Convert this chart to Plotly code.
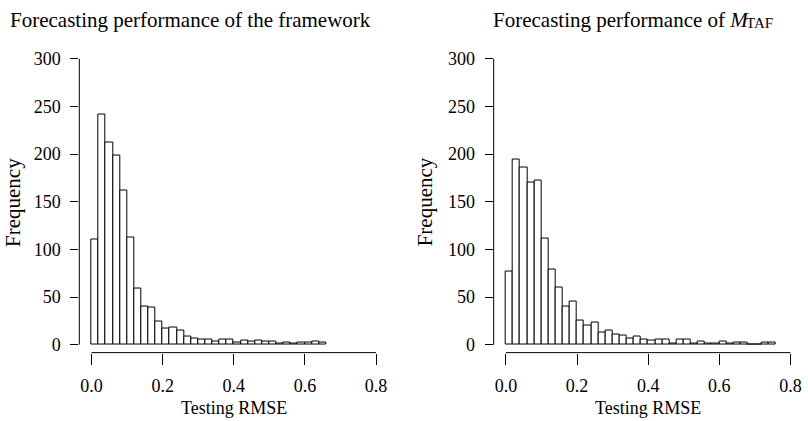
import numpy as np
import plotly.graph_objects as go

W, H = 808, 421
bin_width = 0.02
left_counts = [110, 242, 212, 199, 162, 112, 59, 40, 39, 24, 17, 18, 15, 9, 6, 5, 5, 3, 5, 5,
               2, 4, 3, 4, 3, 3, 1, 2, 1, 2, 2, 3, 2]
right_counts = [77, 194, 186, 170, 172, 111, 79, 60, 40, 45, 25, 20, 23, 13, 15, 11, 10, 6, 9, 5,
                4, 5, 5, 1, 5, 5, 1, 3, 1, 1, 3, 1, 2, 2, 0, 0, 2, 2]
x_ticks = [0.0, 0.2, 0.4, 0.6, 0.8]
x_tick_labels = ["0.0", "0.2", "0.4", "0.6", "0.8"]
y_ticks = [0, 50, 100, 150, 200, 250, 300]
titles = ["Forecasting performance of the framework", "Forecasting performance of <i>M</i>"]
title_sub = "TAF"
x_label = "Testing RMSE"
y_label = "Frequency"

FONT = "Liberation Serif"
px_per_x = 358.75
px_per_y = 0.96233

fig = go.Figure()

def centers(counts):
    return [bin_width * (i + 0.5) for i in range(len(counts))]

fig.add_trace(go.Bar(x=centers(left_counts), y=left_counts, width=bin_width,
                     marker=dict(color="white", line=dict(color="black", width=1)),
                     xaxis="x", yaxis="y", showlegend=False))
fig.add_trace(go.Bar(x=centers(right_counts), y=right_counts, width=bin_width,
                     marker=dict(color="white", line=dict(color="black", width=1)),
                     xaxis="x2", yaxis="y2", showlegend=False))

# panel geometry (pixels)
panels = [dict(ax_px=80, zero_px=92.3, right_px=384, ylab_px=13),
          dict(ax_px=498, zero_px=510.3, right_px=808, ylab_px=429)]
y_bottom_px, y_top_px, y0_px = 354, 50, 346
yr = [-(y_bottom_px - y0_px) / px_per_y, 300 + (y0_px - px_per_y * 300 - y_top_px) / px_per_y]
ydom = [(H - y_bottom_px) / H, (H - y_top_px) / H]

axis_font = dict(family=FONT, size=18, color="black")
layout = dict(width=W, height=H, margin=dict(l=0, r=0, t=0, b=0),
              plot_bgcolor="white", paper_bgcolor="white", bargap=0,
              font=dict(family=FONT, color="black"))
shapes = []
annotations = []
for i, p in enumerate(panels):
    sfx = "" if i == 0 else "2"
    xr = [-(p["zero_px"] - p["ax_px"]) / px_per_x, (p["right_px"] - p["zero_px"]) / px_per_x]
    layout["xaxis" + sfx] = dict(domain=[p["ax_px"] / W, p["right_px"] / W], range=xr,
                                 showgrid=False, zeroline=False, showline=False,
                                 tickmode="array", tickvals=x_ticks, ticktext=x_tick_labels,
                                 ticks="outside", ticklen=11, tickcolor="black", tickwidth=1,
                                 ticklabelstandoff=6, tickfont=axis_font,
                                 anchor="y" + sfx, fixedrange=True)
    layout["yaxis" + sfx] = dict(domain=ydom, range=yr, showgrid=False, zeroline=False,
                                 showline=False, tickmode="array", tickvals=y_ticks,
                                 ticks="outside", ticklen=8, tickcolor="black", tickwidth=1,
                                 ticklabelstandoff=6, tickfont=axis_font,
                                 anchor="x" + sfx, fixedrange=True)
    xa = "x" + sfx
    ya = "y" + sfx
    shapes.append(dict(type="line", xref=xa, yref="paper", x0=x_ticks[0], x1=x_ticks[-1],
                       y0=ydom[0], y1=ydom[0], line=dict(color="black", width=1)))
    shapes.append(dict(type="line", xref="paper", yref=ya, x0=p["ax_px"] / W, x1=p["ax_px"] / W,
                       y0=y_ticks[0], y1=y_ticks[-1], line=dict(color="black", width=1)))
    annotations.append(dict(text=x_label, xref=xa, yref="paper", x=0.4,
                            y=1 - 410 / H, yanchor="middle", xanchor="center", showarrow=False,
                            font=dict(family=FONT, size=18, color="black")))
    annotations.append(dict(text=y_label, xref="paper", yref="paper",
                            x=p["ylab_px"] / W, y=1 - 202 / H, textangle=-90,
                            xanchor="center", yanchor="middle", showarrow=False,
                            font=dict(family=FONT, size=21, color="black")))

annotations.append(dict(text=titles[0], xref="paper", yref="paper", x=8 / W, y=1 - 18 / H,
                        xanchor="left", yanchor="middle", showarrow=False,
                        font=dict(family=FONT, size=21, color="black")))
annotations.append(dict(text=titles[1], xref="paper", yref="paper", x=495 / W, y=1 - 18 / H,
                        xanchor="left", yanchor="middle", showarrow=False,
                        font=dict(family=FONT, size=21, color="black")))
annotations.append(dict(text=title_sub, xref="paper", yref="paper", x=751 / W, y=1 - 21 / H,
                        xanchor="left", yanchor="middle", showarrow=False,
                        font=dict(family=FONT, size=15, color="black")))

layout["shapes"] = shapes
layout["annotations"] = annotations
fig.update_layout(**layout)
fig.write_html("out.html", config={"displayModeBar": False},
               post_script="document.body.style.margin='0';document.body.style.overflow='hidden';")
